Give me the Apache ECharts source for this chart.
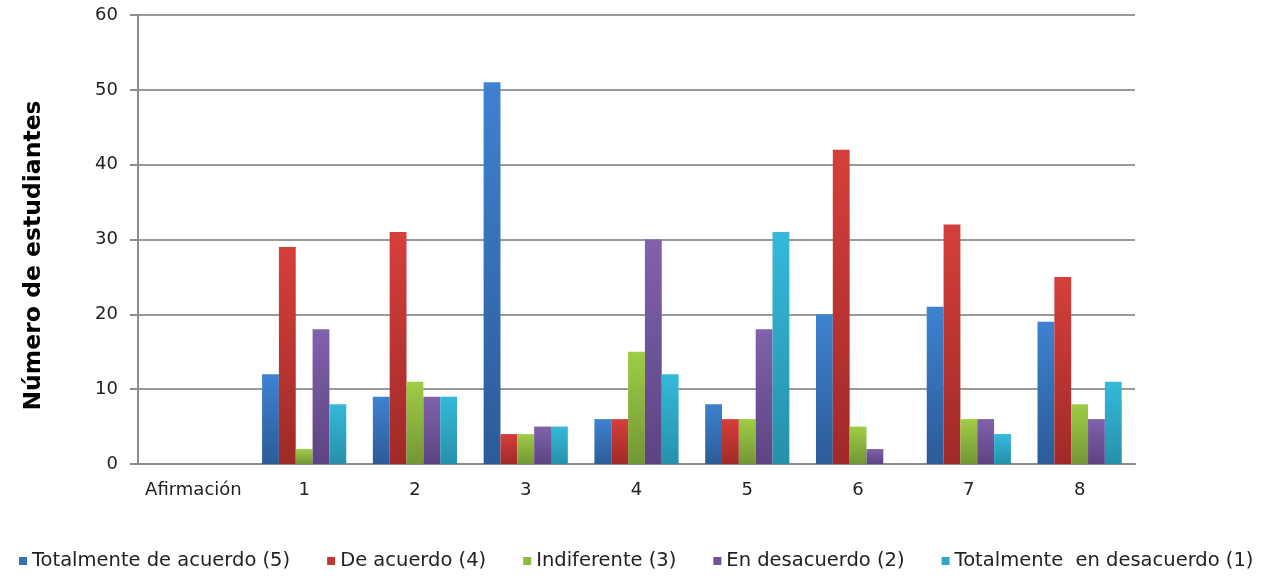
<!DOCTYPE html>
<html>
<head>
<meta charset="utf-8">
<script src="https://cdn.jsdelivr.net/npm/echarts@6/dist/echarts.min.js"></script>
<style>
  html, body { margin: 0; padding: 0; background: #fff; }
  #chart { width: 1268px; height: 578px; }
</style>
</head>
<body>
<div id="chart"></div>
<script>
// Categories on the x axis (first slot is the axis caption, with no bars)
const categories = ['Afirmación', '1', '2', '3', '4', '5', '6', '7', '8'];

// Number of students per answer, one entry per statement
const totalmenteDeAcuerdo = [null, 12, 9, 51, 6, 8, 20, 21, 19];
const deAcuerdo = [null, 29, 31, 4, 6, 6, 42, 32, 25];
const indiferente = [null, 2, 11, 4, 15, 6, 5, 6, 8];
const enDesacuerdo = [null, 18, 9, 5, 30, 18, 2, 6, 6];
const totalmenteEnDesacuerdo = [null, 8, 9, 5, 12, 31, 0, 4, 11];

const seriesNames = [
  'Totalmente de acuerdo (5)',
  'De acuerdo (4)',
  'Indiferente (3)',
  'En desacuerdo (2)',
  'Totalmente  en desacuerdo (1)'
];
const seriesData = [totalmenteDeAcuerdo, deAcuerdo, indiferente, enDesacuerdo, totalmenteEnDesacuerdo];

// Top / bottom colour of each bar's vertical gradient, plus the flat legend colour
const palette = [
  { top: '#3e82d0', bottom: '#2c5b98', flat: '#3a72b8' },
  { top: '#d53f3b', bottom: '#a02a28', flat: '#c0392f' },
  { top: '#9fcd45', bottom: '#739636', flat: '#8fb83e' },
  { top: '#8062ab', bottom: '#5d4383', flat: '#70529a' },
  { top: '#35b9da', bottom: '#2690aa', flat: '#31a7c6' }
];

const chart = echarts.init(document.getElementById('chart'), null, { renderer: 'canvas' });

const series = seriesNames.map((name, i) => ({
  name,
  type: 'bar',
  data: seriesData[i],
  barGap: '0%',
  barCategoryGap: '24%',
  itemStyle: {
    color: new echarts.graphic.LinearGradient(0, 0, 0, 1, [
      { offset: 0, color: palette[i].top },
      { offset: 1, color: palette[i].bottom }
    ])
  }
}));

chart.setOption({
  animation: false,
  textStyle: { fontFamily: 'DejaVu Sans' },
  grid: { left: 138, right: 133, top: 15, bottom: 114, containLabel: false },
  legend: {
    bottom: 2,
    left: 14,
    icon: 'rect',
    itemWidth: 8,
    itemHeight: 8,
    itemGap: 37,
    textStyle: { fontSize: 19.5, color: '#222', fontFamily: 'DejaVu Sans' },
    data: seriesNames.map((name, i) => ({ name, itemStyle: { color: palette[i].flat } }))
  },
  xAxis: {
    type: 'category',
    data: categories,
    axisLine: { show: true, lineStyle: { color: '#8c8c8c', width: 2 } },
    axisTick: { show: false },
    axisLabel: { fontSize: 18, color: '#222', margin: 17, interval: 0 }
  },
  yAxis: {
    type: 'value',
    min: 0,
    max: 60,
    interval: 10,
    name: 'Número de estudiantes',
    nameLocation: 'middle',
    nameGap: 92,
    nameTextStyle: { fontSize: 23.5, fontWeight: 'bold', color: '#000', padding: [0, 32, 0, 0] },
    axisLine: { show: true, lineStyle: { color: '#8c8c8c', width: 2 } },
    axisTick: { show: true, length: 8, lineStyle: { color: '#8c8c8c', width: 2 } },
    axisLabel: { fontSize: 18, color: '#222', margin: 20 },
    splitLine: { show: true, lineStyle: { color: '#9a9a9a', width: 2 } }
  },
  series
});
</script>
</body>
</html>
